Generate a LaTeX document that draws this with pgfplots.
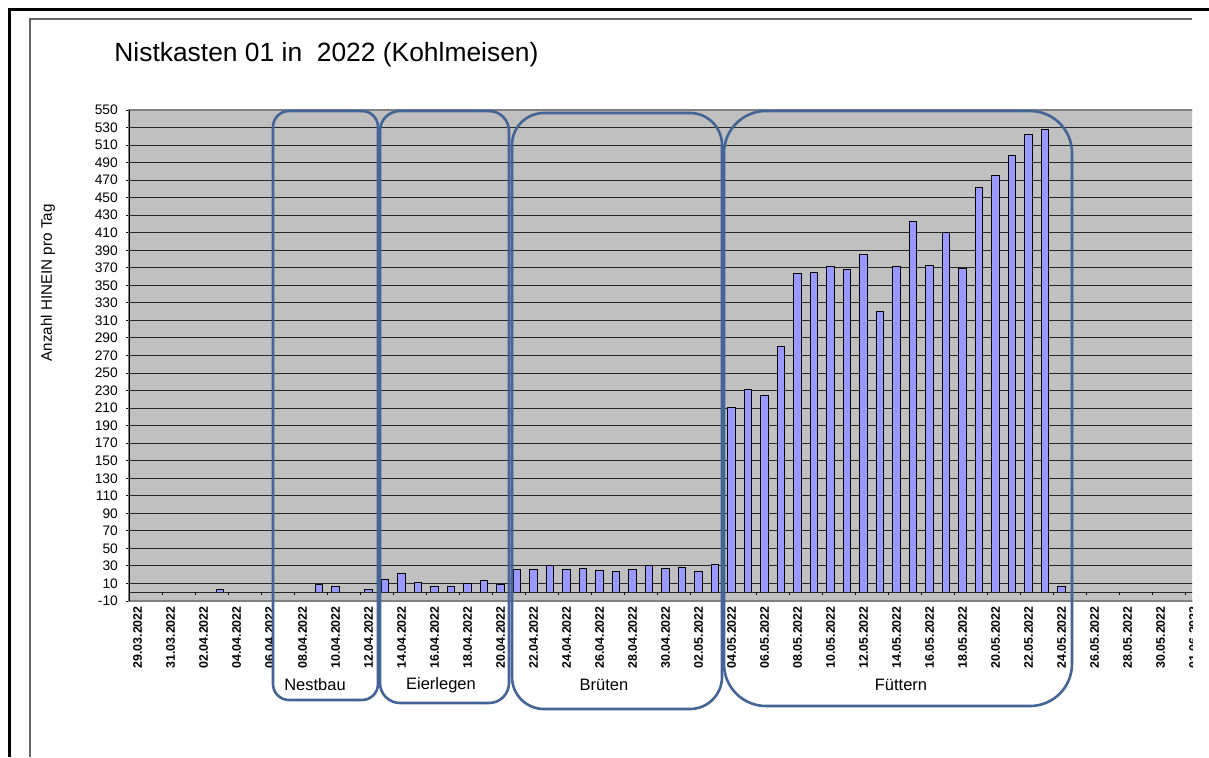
\documentclass[border=0pt]{standalone}
\usepackage{fontspec}
\setmainfont{Liberation Sans}
\usepackage{pgfplots}
\pgfplotsset{compat=1.18}

\definecolor{plotgray}{RGB}{192,192,192}
\definecolor{barblue}{RGB}{153,153,255}
\definecolor{phaseblue}{RGB}{66,100,150}

\begin{document}
\begin{tikzpicture}[x=0.5pt,y=0.5pt]
\useasboundingbox (0,0) rectangle (1209,757);
% outer frame of the screenshot
\draw[line width=1.5pt] (9.5,0) -- (9.5,747.5) -- (1209,747.5);
\draw[black!60, line width=0.6pt] (30,0) -- (30,738) -- (1192,738);

\node[anchor=base west, inner sep=0pt, font=\fontsize{13.2}{15}\selectfont]
  at (114,695) {Nistkasten 01 in\ \ 2022 (Kohlmeisen)};

\node[rotate=90, font=\fontsize{7.6}{9}\selectfont] at (48,474) {Anzahl HINEIN pro Tag};

\begin{scope}
\clip (0,0) rectangle (1192,757);
\begin{axis}[
    at={(64.625pt,78pt)}, anchor=south west,
    scale only axis,
    width=536.25pt, height=245.5pt,
    xmin=-0.5, xmax=64.5,
    ymin=-10, ymax=550,
    ybar,
    bar width=0.43,
    axis background/.style={fill=plotgray},
    axis line style={draw=black!50, line width=0.8pt},
    ymajorgrids,
    major grid style={black!85, line width=0.5pt},
    ytick={-10,10,...,550},
    yticklabels={-10,10,30,50,70,90,110,130,150,170,190,210,230,250,270,290,310,330,350,370,390,410,430,450,470,490,510,530,550},
    yticklabel style={font=\fontsize{6.9}{8}\selectfont, inner sep=1pt, xshift=-3pt},
    ytick style={black, line width=0.5pt},
    tick align=outside,
    major tick length=1.5pt,
    xtick={0,2,...,64},
    xticklabels={29.03.2022,31.03.2022,02.04.2022,04.04.2022,06.04.2022,08.04.2022,10.04.2022,12.04.2022,14.04.2022,16.04.2022,18.04.2022,20.04.2022,22.04.2022,24.04.2022,26.04.2022,28.04.2022,30.04.2022,02.05.2022,04.05.2022,06.05.2022,08.05.2022,10.05.2022,12.05.2022,14.05.2022,16.05.2022,18.05.2022,20.05.2022,22.05.2022,24.05.2022,26.05.2022,28.05.2022,30.05.2022,01.06.2022},
    xticklabel style={rotate=90, anchor=east, font=\fontsize{6.2}{7}\selectfont\bfseries, inner sep=1pt},
    xtick style={draw=none},
    clip=false,
  ]
  % x = day index, 0 = 29.03.2022
  \addplot[fill=barblue, draw=black, line width=0.5pt] coordinates {
    (5,3) (11,9) (12,6) (14,3)
    (15,15) (16,21) (17,11) (18,6) (19,6) (20,10) (21,13) (22,9)
    (23,26) (24,26) (25,30) (26,26) (27,27) (28,25) (29,24) (30,26) (31,30) (32,27) (33,28) (34,24) (35,32)
    (36,211) (37,231) (38,224) (39,280) (40,364) (41,365) (42,372) (43,368) (44,385) (45,320)
    (46,371) (47,423) (48,373) (49,410) (50,369) (51,462) (52,475) (53,498) (54,522) (55,528) (56,7)
  };
  \draw[black!85, line width=0.5pt] (axis cs:-0.5,0) -- (axis cs:64.5,0);
  \draw[black, line width=0.6pt] (axis cs:-0.5,-10) -- (axis cs:-0.5,550);
  \pgfplotsinvokeforeach{1.5,3.5,...,63.5}{\draw[black, line width=0.5pt] (axis cs:#1,0) -- ++(0pt,-1.6pt);}
\end{axis}
\end{scope}

% phases
\tikzset{phase/.style={draw=phaseblue, line width=1.3pt}}
\draw[phase, rounded corners=8pt] (273,400) -- (273,646) -- (378,646) -- (378,57) -- (273,57) -- cycle;
\draw[phase, rounded corners=10pt] (380,400) -- (380,646) -- (509,646) -- (509,54) -- (380,54) -- cycle;
\draw[phase, rounded corners=16pt] (512,400) -- (512,644) -- (722,644) -- (722,48) -- (512,48) -- cycle;
\draw[phase, rounded corners=21pt] (724,400) -- (724,646) -- (1072,646) -- (1072,51) -- (724,51) -- cycle;

\begin{scope}[font=\fontsize{8.25}{10}\selectfont]
\node at (315,72) {Nestbau};
\node at (441,72) {Eierlegen};
\node at (604,72) {Brüten};
\node at (901,72) {Füttern};
\end{scope}
\end{tikzpicture}
\end{document}
